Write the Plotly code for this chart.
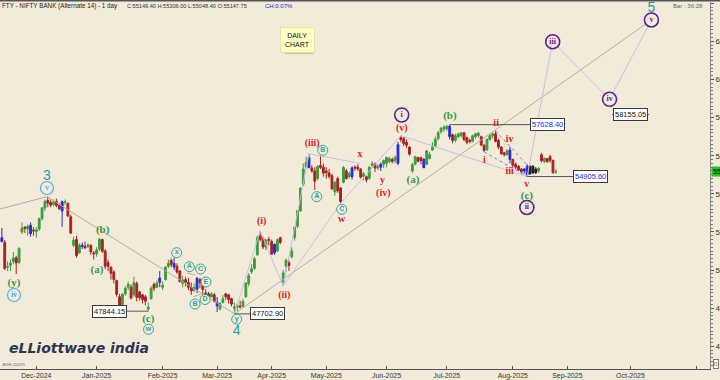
import pandas as pd
import plotly.graph_objects as go

# ---------------- calendar (trading days) ----------------
HOLIDAYS = ["2024-11-15", "2024-11-20", "2024-12-25", "2025-02-26", "2025-03-14",
            "2025-03-31", "2025-04-10", "2025-04-14", "2025-04-18", "2025-05-01",
            "2025-08-15", "2025-08-27"]
calendar = [d.strftime("%Y-%m-%d") for d in pd.bdate_range("2024-11-11", "2025-12-31")
            if d.strftime("%Y-%m-%d") not in HOLIDAYS]

# ---------------- OHLC data ----------------
opens = [
    51600, 51700, 51450, 50150, 50250, 50450, 50650, 50400, 52000, 52250, 52150, 52350, 52100,
    52000, 52150, 52700, 53250, 53650, 53550, 53450, 53600, 53400, 53100, 53550, 53500, 52800, 51300, 51600, 50900, 51300, 51250, 51250, 51300, 50900,
    50850, 51100, 51600, 51000, 50400, 50150, 49900, 49450, 48600, 48200, 48750, 49100, 49100, 48700, 49300, 48850, 48700, 48600, 47950, 48500, 49250, 49100, 49350,
    49100, 49500, 50200, 50500, 50350, 50200, 49950, 49300, 49500, 49350, 49100, 48950, 49000, 49500, 49300, 48800, 48750, 48600, 48700,
    48300, 47950, 48300, 48750, 48700, 48500, 48000, 48050, 48100, 48100, 48600, 49300, 49900, 50100, 50800, 51800, 51650, 51200, 51600,
    51500, 50900, 51000, 51700, 49350, 50200, 50400, 50700, 51700, 52300, 53100, 54500, 55400, 55900, 55350, 55200, 54800, 55500, 55400,
    55200, 55100, 54950, 54100, 54800, 54300, 54600, 55200, 54900, 54900, 55400, 55400, 55300, 54900, 54900, 54800, 55500, 55550, 55350, 55400, 55550,
    55600, 55700, 55800, 55750, 55600, 56950, 56900, 56700, 56450, 55200, 55550, 55900, 55900, 55800, 55550, 55850, 56300, 56500, 56900, 57250, 57400,
    57400, 57550, 57100, 56800, 57000, 57050, 57200, 56950, 56800, 56750, 57000, 57050, 57000, 56550, 56300, 56850, 57050, 57150, 56800, 56450, 56150, 56050, 56300,
    55800, 55550, 55450, 55300, 55200, 55450, 55050, 55450, 55100, 55200, 56050, 55700, 55850, 55950, 55750, 55147.75,
]
highs = [
    51780, 52200, 51580, 50450, 50550, 50950, 50750, 51200, 52500, 52300, 52400, 52500, 52250,
    52250, 52750, 53300, 53700, 53850, 53700, 53700, 53750, 53500, 53650, 53700, 53550, 52900, 51750, 51800, 51400, 51450, 51500, 51400, 51350, 51000,
    51200, 51700, 51650, 51100, 50550, 50200, 50000, 49500, 48750, 48800, 49150, 49400, 49250, 49650, 49400, 48900, 48750, 48700, 48300, 49150, 49350, 49450, 49950,
    49400, 50200, 50550, 50600, 50640, 50350, 50000, 49700, 49650, 49600, 49350, 49300, 49640, 49600, 49350, 49000, 48850, 48850, 48800,
    48590, 48300, 48700, 48800, 48750, 48550, 48300, 48250, 48400, 48500, 49350, 49850, 50300, 50700, 51800, 52063, 51750, 51650, 51750,
    51600, 51400, 51650, 51750, 50000, 50600, 50550, 51200, 52300, 53150, 54350, 55600, 55950, 56098, 55500, 55400, 55500, 56000, 55600,
    55400, 55300, 55050, 54650, 54900, 54350, 55450, 55300, 55150, 55450, 55500, 55550, 55350, 55150, 54950, 55450, 55700, 55650, 55550, 55650, 55800,
    55950, 55950, 55900, 56000, 56720, 57049, 57000, 56850, 56500, 55620, 56000, 55950, 55950, 55880, 56300, 56200, 56700, 57000, 57300, 57500, 57600,
    57600, 57628.4, 57150, 57150, 57200, 57250, 57250, 57000, 56900, 57100, 57200, 57250, 57050, 56600, 56900, 57150, 57200, 57300, 56900, 56500, 56200, 56350, 56460,
    55850, 55650, 55500, 55350, 55350, 55550, 55500, 55500, 55400, 55400, 56140, 55900, 55880, 56050, 55800, 55306,
]
lows = [
    51300, 51450, 50000, 49950, 49950, 50300, 49790, 50300, 51900, 51950, 51800, 51750, 51800,
    51700, 52050, 52600, 53100, 53300, 53300, 53350, 53300, 53150, 52265, 53400, 52800, 51900, 51200, 50650, 50850, 51100, 51100, 51150, 50800, 50550,
    50700, 51000, 50900, 50050, 49950, 49500, 49300, 48600, 48050, 48100, 48650, 48950, 48450, 48600, 48350, 48400, 48250, 48150, 47844.15, 48450, 48900, 49050, 49100,
    48950, 49450, 50100, 50150, 50000, 49800, 49350, 49100, 49150, 48950, 48700, 48850, 48790, 49050, 48700, 48550, 48550, 48550, 48300,
    47800, 47900, 48250, 48450, 48250, 48100, 47702.9, 47850, 48000, 48050, 48550, 49150, 49800, 50000, 50750, 51500, 51100, 51050, 51300,
    50800, 50800, 50950, 51350, 49156, 49900, 49950, 50600, 51550, 52200, 53050, 54400, 55300, 55350, 55100, 54200, 54700, 55300, 54900,
    54800, 54800, 54200, 53900, 54050, 53500, 54550, 54750, 54800, 54750, 55200, 55200, 54800, 54700, 54600, 54750, 55400, 55150, 55250, 55200, 55350,
    55400, 55600, 55600, 55600, 55500, 56700, 56500, 56400, 56000, 55100, 55500, 55650, 55550, 55350, 55500, 55800, 56250, 56450, 56800, 57150, 57250,
    57300, 56850, 56650, 56700, 56900, 56950, 56750, 56600, 56650, 56700, 56900, 56950, 56500, 56200, 56250, 56800, 56900, 56700, 56350, 56050, 55950, 56000, 55600,
    55400, 55300, 55200, 55100, 55050, 54905.6, 55000, 55050, 55050, 55100, 55650, 55620, 55620, 55620, 55050, 55048.4,
]
closes = [
    51561, 51500, 50088, 50179, 50363, 50626, 50372, 51135, 52207, 52191, 52301, 51906, 52055,
    52109, 52695, 53266, 53603, 53509, 53407, 53577, 53391, 53216, 53583, 53581, 52835, 51939, 51575, 50759, 51317, 51233, 51170, 51311, 50952, 50860,
    51060, 51605, 50988, 50202, 50200, 49835, 49503, 48734, 48150, 48729, 49050, 49250, 48540, 49350, 48570, 48550, 48450, 48367, 48064, 49050, 49050, 49312, 49587,
    49210, 50157, 50343, 50300, 50159, 49900, 49404, 49480, 49359, 49099, 48900, 49087, 49570, 49334, 48981, 48651, 48608, 48743, 48344,
    48114, 48245, 48489, 48600, 48450, 48216, 48057, 48150, 48060, 48354, 49314, 49702, 50063, 50593, 51704, 51608, 51209, 51575, 51564,
    50827, 51348, 51597, 51450, 49860, 50511, 50240, 51002, 52250, 53117, 54290, 55304, 55647, 55370, 55201, 54664, 55432, 55391, 55087,
    55115, 54919, 54271, 54611, 54150, 53595, 55382, 54801, 55059, 55355, 55355, 55304, 54877, 55050, 54732, 55398, 55572, 55352, 55417, 55546, 55749,
    55903, 55850, 55700, 55900, 56578, 56839, 56629, 56550, 56082, 55527, 55945, 55714, 55750, 55370, 56252, 56059, 56461, 56865, 57206, 57443, 57500,
    57550, 57000, 56800, 57050, 57150, 57200, 56850, 56700, 56750, 57050, 57150, 57180, 56560, 56280, 56850, 57050, 57150, 56750, 56450, 56100, 56050, 56250, 55800,
    55500, 55400, 55250, 55150, 55300, 55004, 55450, 55100, 55300, 55341, 55735, 55865, 55698, 55755, 55110, 55149.4,
]
dates = calendar[:len(closes)]

blue_days = ["2024-11-12", "2024-11-28", "2024-12-13", "2024-12-24", "2025-01-31", "2025-02-07",
             "2025-02-19", "2025-03-03", "2025-04-02", "2025-04-23", "2025-05-15", "2025-05-29",
             "2025-06-06", "2025-06-19", "2025-07-02", "2025-07-31", "2025-08-07", "2025-08-08"]
black_days = ["2025-08-11", "2025-08-12", "2025-08-13"]

# month ticks
month_ticks = ["2024-12-02", "2025-01-01", "2025-02-03", "2025-03-03", "2025-04-01", "2025-05-02",
               "2025-06-02", "2025-07-01", "2025-08-01", "2025-09-01", "2025-10-01", "2025-11-03"]
month_text = ["Dec-2024", "Jan-2025", "Feb-2025", "Mar-2025", "Apr-2025", "May-2025",
              "Jun-2025", "Jul-2025", "Aug-2025", "Sep-2025", "Oct-2025", ""]

# key levels
LOW_C = 47844.15
LOW_4 = 47702.90
HIGH_B = 57628.40
LOW_II = 54905.60
TARGET = 58155.05

# wave labels: (text, date, fraction of bar, price)
red_labels = [("(i)", "2025-03-25", 0.5, 52538), ("(ii)", "2025-04-07", 0.4, 48692),
              ("(iii)", "2025-04-24", 0.1, 56640), ("w", "2025-05-09", 0.4, 52627),
              ("x", "2025-05-19", 0.8, 56089), ("y", "2025-05-29", 0.6, 54673),
              ("(iv)", "2025-05-29", 0.9, 54027), ("(v)", "2025-06-09", 0.3, 57437),
              ("i", "2025-07-18", 0.1, 55774), ("ii", "2025-07-24", 0.2, 57700),
              ("iii", "2025-07-30", 0.9, 55161), ("iv", "2025-07-30", 0.9, 56824),
              ("v", "2025-08-07", 0.9, 54500)]
green_labels = [("(y)", "2024-11-19", 0.23, 49320), ("(a)", "2025-01-01", 0.15, 50004),
                ("(b)", "2025-01-03", 0.1, 52102), ("(c)", "2025-01-27", 0.0, 47418),
                ("(a)", "2025-06-13", 0.2, 54725), ("(b)", "2025-07-02", 0.1, 58083),
                ("(c)", "2025-08-07", 0.9, 53860)]
teal_numbers = [("3", "2024-12-05", 0.7, 54935), ("4", "2025-03-11", 0.76, 46800),
                ("5", "2025-10-10", 0.3, 63740)]
purple_circles = [("i", "2025-06-09", 0.3, 58135), ("ii", "2025-08-07", 0.9, 53283),
                  ("iii", "2025-08-21", 0.9, 61980), ("iv", "2025-09-19", 0.7, 58959),
                  ("v", "2025-10-10", 0.3, 63119)]
lblue_circles = [("v", "2024-12-05", 0.7, 54306), ("iv", "2024-11-19", 0.23, 48692)]
teal_circles = [("w", "2025-01-27", 0.1, 46893), ("x", "2025-02-07", 0.9, 50911),
                ("A", "2025-02-14", 0.3, 50177), ("B", "2025-02-18", 0.3, 48220),
                ("C", "2025-02-20", 0.2, 50056), ("D", "2025-02-21", 0.8, 48456),
                ("E", "2025-02-24", 0.1, 49374), ("y", "2025-03-11", 0.8, 47420),
                ("A", "2025-04-25", 0.7, 53849), ("B", "2025-04-29", 0.8, 56283),
                ("C", "2025-05-09", 0.4, 53188)]

# wave connection lines: list of polylines of (date, frac, price)
gray_lines = [[("2024-11-11", -1.0, 53150), ("2024-12-05", 0.7, 53850)],
              [("2024-12-05", 0.7, 53850), ("2025-03-11", 0.0, LOW_4)],
              [("2025-03-11", 0.0, LOW_4), ("2025-10-10", 0.3, 63119)]]
lav_lines = [[("2025-03-11", 0.0, LOW_4), ("2025-03-25", 0.0, 52063), ("2025-04-07", 0.0, 49156),
              ("2025-04-23", 0.0, 56098)],
             [("2025-04-23", 0.0, 56098), ("2025-05-19", 0.8, 55600)],
             [("2025-04-07", 0.0, 49156), ("2025-05-09", 0.0, 53500)],
             [("2025-05-09", 0.0, 53500), ("2025-06-09", 0.0, 57049)],
             [("2025-06-09", 0.0, 57049), ("2025-08-08", 0.0, LOW_II)],
             [("2025-08-08", 0.0, LOW_II), ("2025-08-21", 0.9, 61980), ("2025-09-19", 0.7, 58959),
              ("2025-10-10", 0.3, 63119)]]
blue_dash_lines = [[("2025-07-18", 0.0, 56200), ("2025-08-08", 0.0, LOW_II)],
                   [("2025-07-24", 0.0, 57300), ("2025-08-08", 0.0, 55512)]]
pink_dash_lines = [[("2025-02-13", 0.4, 49847), ("2025-02-20", 0.6, 49652)],
                   [("2025-02-17", 0.7, 48603), ("2025-02-24", 0.9, 48865)]]
level_lines = [[("2025-01-14", 0.2, LOW_C), ("2025-01-27", 0.0, LOW_C)],
               [("2025-03-11", 0.0, LOW_4), ("2025-03-20", 0.5, LOW_4)],
               [("2025-07-02", 0.0, HIGH_B), ("2025-08-12", 0.7, HIGH_B)],
               [("2025-08-08", 0.0, LOW_II), ("2025-09-03", 0.7, LOW_II)],
               [("2025-09-22", 0.6, TARGET), ("2025-10-09", 0.5, TARGET)]]
level_boxes = [("47844.15", "2025-01-07", 0.4, LOW_C, "#111111"),
               ("47702.90", "2025-03-27", 0.6, LOW_4, "#111111"),
               ("57628.40", "2025-08-20", 0.0, HIGH_B, "#1a1aff"),
               ("54905.60", "2025-09-11", 0.1, LOW_II, "#1a1aff"),
               ("58155.05", "2025-10-01", 0.0, TARGET, "#111111")]


def X(d, f=0.0):
    return calendar.index(d) + f


BG = "#f3ebda"
W_PLOT, H_PLOT, TOP = 710.0, 367.0, 2.0


def px(x):
    return x / W_PLOT


def py(y):
    return 1 - (y - TOP) / H_PLOT


SANS = "Liberation Sans, Arial"
SERIF = "Liberation Serif, DejaVu Serif, serif"

fig = go.Figure()


def add_poly(pts, color, width=1, dash="solid"):
    fig.add_trace(go.Scatter(x=[X(d, f) for d, f, _ in pts], y=[p for _, _, p in pts], mode="lines",
                             line=dict(color=color, width=width, dash=dash), hoverinfo="skip",
                             showlegend=False))


for pl in gray_lines:
    add_poly(pl, "#b3aca2", 1)
for pl in lav_lines:
    add_poly(pl, "#c3bfe6", 1)
for pl in pink_dash_lines:
    add_poly(pl, "#e79a9a", 1, "dash")

# candles
kind = []
for i, d in enumerate(dates):
    if d in blue_days:
        kind.append("b")
    elif d in black_days:
        kind.append("k")
    elif closes[i] >= opens[i]:
        kind.append("g")
    else:
        kind.append("r")
colors = {"g": "#3f9b3f", "r": "#a82222", "b": "#2a2ad8", "k": "#1e1e1e"}
for kk, col in colors.items():
    idx = [i for i in range(len(dates)) if kind[i] == kk]
    fig.add_trace(go.Candlestick(
        x=[X(dates[i]) for i in idx], open=[opens[i] for i in idx], high=[highs[i] for i in idx],
        low=[lows[i] for i in idx], close=[closes[i] for i in idx],
        increasing=dict(line=dict(color=col, width=1), fillcolor=col),
        decreasing=dict(line=dict(color=col, width=1), fillcolor=col),
        whiskerwidth=0, hoverinfo="skip", showlegend=False))

for pl in blue_dash_lines:
    add_poly(pl, "#6f7fe6", 1, "dot")
for pl in level_lines:
    add_poly(pl, "#555555", 1)


def add_text(labels, color, size, family, weight="bold"):
    fig.add_trace(go.Scatter(x=[X(d, f) for _, d, f, _ in labels], y=[p for _, _, _, p in labels],
                             mode="text", text=[t for t, _, _, _ in labels], textposition="middle center",
                             textfont=dict(color=color, size=size, family=family, weight=weight),
                             cliponaxis=False, hoverinfo="skip", showlegend=False))


def add_circles(labels, color, size, lw, fsize, family):
    fig.add_trace(go.Scatter(x=[X(d, f) for _, d, f, _ in labels], y=[p for _, _, _, p in labels],
                             mode="markers+text", text=[t for t, _, _, _ in labels],
                             textposition="middle center", cliponaxis=False,
                             marker=dict(symbol="circle", size=size, color=BG, line=dict(color=color, width=lw)),
                             textfont=dict(color=color, size=fsize, family=family, weight="bold"),
                             hoverinfo="skip", showlegend=False))


add_text(red_labels, "#e3201b", 10, SERIF)
add_text(green_labels, "#3a9a3a", 11, SERIF)
add_text(teal_numbers, "#2b9c9c", 14, SANS, "normal")
add_circles(purple_circles, "#5e1f8e", 14, 1.6, 8, SERIF)
add_circles(lblue_circles, "#4fb0ee", 13, 1.2, 8, SERIF)
add_circles(teal_circles, "#2ea59f", 10, 1.0, 7, SANS)

annotations = []
for t, d, f, p, c in level_boxes:
    annotations.append(dict(x=X(d, f), y=p, xref="x", yref="y", text=t, showarrow=False,
                            font=dict(size=7.5, color=c, family=SANS),
                            bgcolor="#ffffff", bordercolor="#3a3a3a", borderwidth=1, borderpad=1))

# header texts
annotations += [
    dict(x=0, y=py(6), xref="paper", yref="paper", xanchor="left", yanchor="middle", showarrow=False,
         text="FTY - NIFTY BANK (Alternate 14) - 1 day", font=dict(size=6.3, color="#222222", family=SANS)),
    dict(x=px(125), y=py(6), xref="paper", yref="paper", xanchor="left", yanchor="middle", showarrow=False,
         text="C:55149.40 H:55306.00 L:55048.40 O:55147.75",
         font=dict(size=5.6, color="#333333", family=SANS)),
    dict(x=px(263), y=py(6), xref="paper", yref="paper", xanchor="left", yanchor="middle", showarrow=False,
         text="CH:0.07%", font=dict(size=6, color="#2020e0", family=SANS)),
    dict(x=px(705), y=py(6), xref="paper", yref="paper", xanchor="right", yanchor="middle", showarrow=False,
         text="Bar : 36:28", font=dict(size=6, color="#666666", family=SANS)),
    dict(x=px(297), y=py(39.5), xref="paper", yref="paper", xanchor="center", yanchor="middle", showarrow=False,
         text="DAILY<br>CHART", font=dict(size=7, color="#111111", family=SANS),
         bgcolor="#ffffc4", bordercolor="#e8e4a8", borderwidth=1, borderpad=4),
    dict(x=px(7), y=py(348), xref="paper", yref="paper", xanchor="left", yanchor="middle", showarrow=False,
         text="<b><i>eLLiottwave india</i></b>", font=dict(size=14, color="#2c3552", family="DejaVu Sans")),
    dict(x=0, y=py(364), xref="paper", yref="paper", xanchor="left", yanchor="middle", showarrow=False,
         text="ave.com", font=dict(size=6, color="#777777", family=SANS)),
    dict(x=1.0, y=closes[-1], xref="paper", yref="y", xanchor="left", yanchor="middle", showarrow=False,
         text="55149.40", font=dict(size=7, color="#000000", family=SANS), bgcolor="#22c322",
         borderpad=1, xshift=1),
    dict(x=px(713), y=py(364), xref="paper", yref="paper", xanchor="left", yanchor="middle", showarrow=False,
         text="0", font=dict(size=6, color="#333333"), bgcolor="#ffffff", bordercolor="#777777",
         borderwidth=1, borderpad=0),
]

shapes = [
    dict(type="rect", xref="paper", yref="paper", x0=px(285), x1=px(313.5), y0=py(54), y1=py(29),
         fillcolor="#c9c1a8", line=dict(width=0), layer="above"),
    dict(type="line", xref="paper", yref="paper", x0=0, x1=720 / W_PLOT, y0=py(0.8), y1=py(0.8),
         line=dict(color="#555555", width=1.5)),
]

fig.update_layout(
    width=720, height=380, margin=dict(l=0, r=10, t=2, b=11),
    paper_bgcolor=BG, plot_bgcolor=BG, showlegend=False,
    boxgap=0.25, boxgroupgap=0.15,
    annotations=annotations, shapes=shapes,
    xaxis=dict(range=[0.35, 247.7], rangeslider=dict(visible=False), showgrid=False, zeroline=False,
               tickvals=[X(d) for d in month_ticks], ticktext=month_text, ticks="inside", ticklen=3,
               tickcolor="#555555", showline=True, linecolor="#555555", linewidth=1,
               tickfont=dict(size=7, color="#333333", family=SANS), automargin=False),
    yaxis=dict(range=[44810, 64063], side="right", showgrid=False, zeroline=False, showline=True,
               linecolor="#888888", ticks="outside", ticklen=3, tickcolor="#555555", dtick=2000, tick0=0,
               tickformat="d", tickfont=dict(size=8, color="#333333", family=SANS), automargin=False,
               minor=dict(dtick=200, ticks="outside", ticklen=2, tickcolor="#777777")),
)

fig.write_html("out.html")
